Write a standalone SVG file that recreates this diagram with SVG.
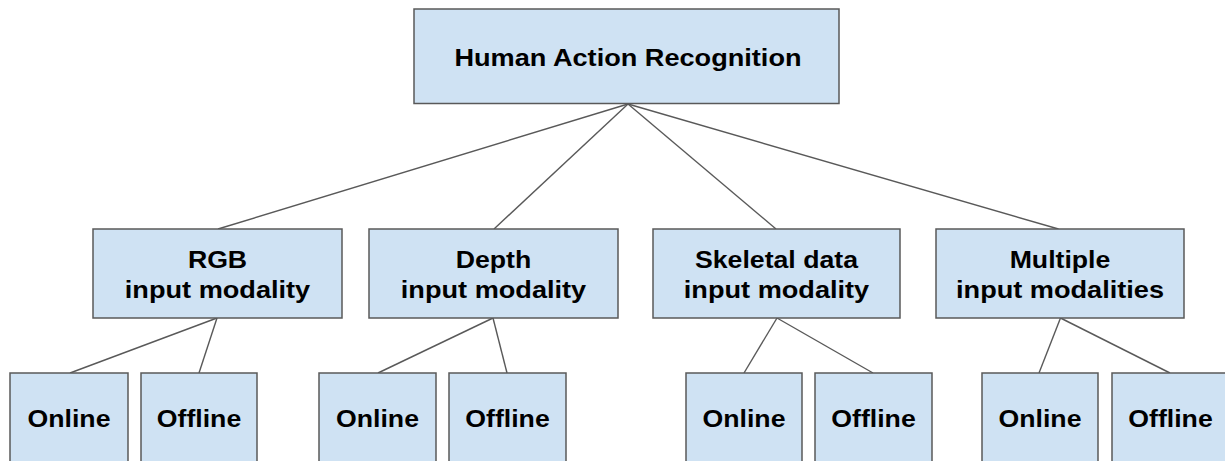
<svg xmlns="http://www.w3.org/2000/svg" width="1225" height="461" viewBox="0 0 1225 461">
  <style>
    .box { fill: #cfe2f3; stroke: #595959; stroke-width: 1.5; }
    .lbl { font-family: "Liberation Sans", Arial, sans-serif; font-weight: bold; font-size: 23px; fill: #000000; text-anchor: middle; }
    .conn line { stroke: #595959; stroke-width: 1.4; }
  </style>
  <rect x="0" y="0" width="1225" height="461" fill="#ffffff"/>
  <g id="connectors" class="conn">
    <line x1="628" y1="104" x2="218" y2="229"/>
    <line x1="628" y1="104" x2="494" y2="229"/>
    <line x1="628" y1="104" x2="776" y2="229"/>
    <line x1="628" y1="104" x2="1058.5" y2="229"/>
    <line x1="217" y1="318" x2="70" y2="373"/>
    <line x1="217" y1="318" x2="199" y2="373"/>
    <line x1="493" y1="318" x2="378" y2="373"/>
    <line x1="493" y1="318" x2="507" y2="373"/>
    <line x1="777" y1="318" x2="744" y2="373"/>
    <line x1="777" y1="318" x2="873" y2="373"/>
    <line x1="1060.5" y1="318" x2="1039" y2="373"/>
    <line x1="1060.5" y1="318" x2="1170" y2="373"/>
  </g>
  <g id="har">
    <rect class="box" x="414" y="9" width="425" height="94.5"/>
    <text class="lbl" transform="translate(628,66) scale(1.18,1)">Human Action Recognition</text>
  </g>
  <g id="rgb">
    <rect class="box" x="93" y="229" width="249" height="89"/>
    <text class="lbl" transform="translate(217.5,268) scale(1.16,1)">RGB</text>
    <text class="lbl" transform="translate(217.5,298) scale(1.18,1)">input modality</text>
  </g>
  <g id="depth">
    <rect class="box" x="369" y="229" width="249" height="89"/>
    <text class="lbl" transform="translate(493.5,268) scale(1.16,1)">Depth</text>
    <text class="lbl" transform="translate(493.5,298) scale(1.18,1)">input modality</text>
  </g>
  <g id="skeletal">
    <rect class="box" x="653" y="229" width="247" height="89"/>
    <text class="lbl" transform="translate(776.5,268) scale(1.16,1)">Skeletal data</text>
    <text class="lbl" transform="translate(776.5,298) scale(1.18,1)">input modality</text>
  </g>
  <g id="multiple">
    <rect class="box" x="936" y="229" width="248" height="89"/>
    <text class="lbl" transform="translate(1060,268) scale(1.16,1)">Multiple</text>
    <text class="lbl" transform="translate(1060,298) scale(1.18,1)">input modalities</text>
  </g>
  <g id="rgb-online">
    <rect class="box" x="10" y="373" width="118" height="100"/>
    <text class="lbl" transform="translate(69,427) scale(1.16,1)">Online</text>
  </g>
  <g id="rgb-offline">
    <rect class="box" x="141" y="373" width="116" height="100"/>
    <text class="lbl" transform="translate(199,427) scale(1.16,1)">Offline</text>
  </g>
  <g id="depth-online">
    <rect class="box" x="319" y="373" width="117" height="100"/>
    <text class="lbl" transform="translate(377.5,427) scale(1.16,1)">Online</text>
  </g>
  <g id="depth-offline">
    <rect class="box" x="449" y="373" width="117" height="100"/>
    <text class="lbl" transform="translate(507.5,427) scale(1.16,1)">Offline</text>
  </g>
  <g id="skeletal-online">
    <rect class="box" x="686" y="373" width="116" height="100"/>
    <text class="lbl" transform="translate(744,427) scale(1.16,1)">Online</text>
  </g>
  <g id="skeletal-offline">
    <rect class="box" x="815" y="373" width="117" height="100"/>
    <text class="lbl" transform="translate(873.5,427) scale(1.16,1)">Offline</text>
  </g>
  <g id="multiple-online">
    <rect class="box" x="982" y="373" width="116" height="100"/>
    <text class="lbl" transform="translate(1040,427) scale(1.16,1)">Online</text>
  </g>
  <g id="multiple-offline">
    <rect class="box" x="1112" y="373" width="117" height="100"/>
    <text class="lbl" transform="translate(1170.5,427) scale(1.16,1)">Offline</text>
  </g>
</svg>
